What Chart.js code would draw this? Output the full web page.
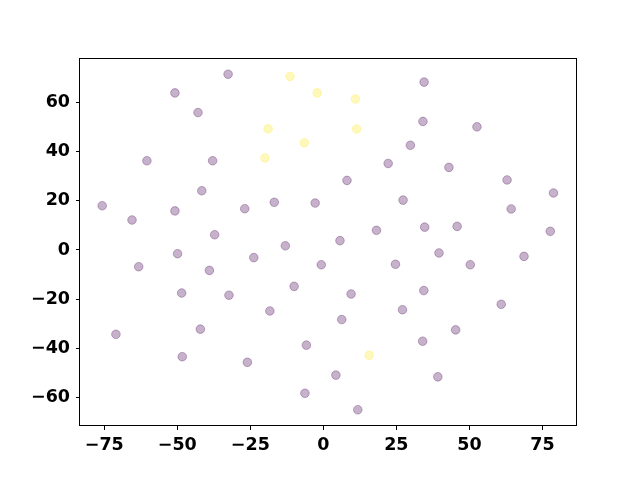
<!DOCTYPE html>
<html>
<head>
<meta charset="utf-8">
<script src="https://cdn.jsdelivr.net/npm/chart.js@4/dist/chart.umd.min.js"></script>
<style>
  html, body { margin: 0; padding: 0; background: #fff; }
</style>
</head>
<body>
<canvas id="chart" width="640" height="480"></canvas>
<script>
// scatter points (group 0 = purple, 1 = yellow)
const xs = [-32.6, -11.4, -50.8, -2.1, 34.5, 11.0, -42.9, 34.1, -18.9, 11.4,
    52.6, -6.5, 29.8, -20.0, -60.4, -37.9, 22.2, 43.0, 8.1, 62.9,
    78.8, -75.7, -41.6, 27.3, -16.8, -2.8, -26.9, -50.8, 64.3, -65.5,
    34.7, 45.8, 18.2, 77.7, -37.2, 5.7, -13.0, -49.9, 39.6, 68.7,
    -23.8, -0.7, 24.7, 50.3, -63.2, -39.0, 34.4, -48.5, 9.5, -32.3,
    -10.0, 60.9, -18.3, 27.1, 6.3, -42.1, 45.3, -71.0, -5.8, 34.0,
    15.7, -48.3, -26.0, 4.3, 39.2, -6.3, 11.8];
const ys = [71.5, 70.6, 63.9, 63.9, 68.3, 61.4, 55.9, 52.3, 49.3, 49.2,
    50.1, 43.6, 42.6, 37.4, 36.3, 36.3, 35.2, 33.6, 28.3, 28.5,
    23.2, 18.0, 24.1, 20.3, 19.4, 19.1, 16.8, 15.9, 16.7, 12.2,
    9.3, 9.6, 8.0, 7.6, 6.2, 3.8, 1.7, -1.5, -1.2, -2.6,
    -3.1, -6.0, -5.8, -6.0, -6.8, -8.3, -16.5, -17.5, -17.9, -18.4,
    -14.8, -22.1, -24.8, -24.3, -28.3, -32.2, -32.5, -34.3, -38.7, -37.1,
    -42.8, -43.4, -45.7, -50.9, -51.6, -58.3, -65.0];
const groups = [0, 1, 0, 1, 0, 1, 0, 0, 1, 1,
    0, 1, 0, 1, 0, 0, 0, 0, 0, 0,
    0, 0, 0, 0, 0, 0, 0, 0, 0, 0,
    0, 0, 0, 0, 0, 0, 0, 0, 0, 0,
    0, 0, 0, 0, 0, 0, 0, 0, 0, 0,
    0, 0, 0, 0, 0, 0, 0, 0, 0, 0,
    1, 0, 0, 0, 0, 0, 0];
const xTicks = [-75, -50, -25, 0, 25, 50, 75];
const yTicks = [-60, -40, -20, 0, 20, 40, 60];

const groupColors = ["rgba(68,1,84,0.3)", "rgba(253,231,37,0.3)"];

const points = xs.map((x, i) => ({x: x, y: ys[i]}));
const pointColors = groups.map(g => groupColors[g]);

// matplotlib style full box around the plot
const boxPlugin = {
    id: 'box',
    afterDraw(chart) {
        const a = chart.chartArea;
        const ctx = chart.ctx;
        ctx.save();
        ctx.strokeStyle = '#000';
        ctx.lineWidth = 1;
        ctx.strokeRect(Math.round(a.left) - 0.5, Math.round(a.top) + 0.5,
            Math.round(a.right - a.left) + 1, Math.round(a.bottom - a.top) - 1);
        ctx.restore();
    }
};

const tickFont = {family: "'DejaVu Sans'", size: 17.5, weight: 'bold'};
const minus = v => String(v).replace('-', '\u2212');

new Chart('chart', {
    type: 'scatter',
    data: {
        datasets: [{
            data: points,
            pointRadius: 4.3,
            pointBorderWidth: 1,
            backgroundColor: pointColors,
            borderColor: pointColors
        }]
    },
    options: {
        responsive: false,
        animation: false,
        devicePixelRatio: 1,
        layout: {padding: {left: 0, right: 64, top: 58, bottom: 0}},
        plugins: {legend: {display: false}, tooltip: {enabled: false}},
        scales: {
            x: {
                min: -83.3,
                max: 86.5,
                afterBuildTicks: s => { s.ticks = xTicks.map(v => ({value: v})); },
                afterFit: s => { s.height = 54; },
                border: {display: false},
                grid: {drawOnChartArea: false, tickLength: 4, tickColor: '#000'},
                ticks: {color: '#000', font: tickFont, padding: 5, maxRotation: 0,
                    callback: v => minus(v)}
            },
            y: {
                min: -71.6,
                max: 78.1,
                afterBuildTicks: s => { s.ticks = yTicks.map(v => ({value: v})); },
                afterFit: s => { s.width = 80; },
                border: {display: false},
                grid: {drawOnChartArea: false, tickLength: 4, tickColor: '#000'},
                ticks: {color: '#000', font: tickFont, padding: 6,
                    callback: v => minus(v)}
            }
        }
    },
    plugins: [boxPlugin]
});
</script>
</body>
</html>
